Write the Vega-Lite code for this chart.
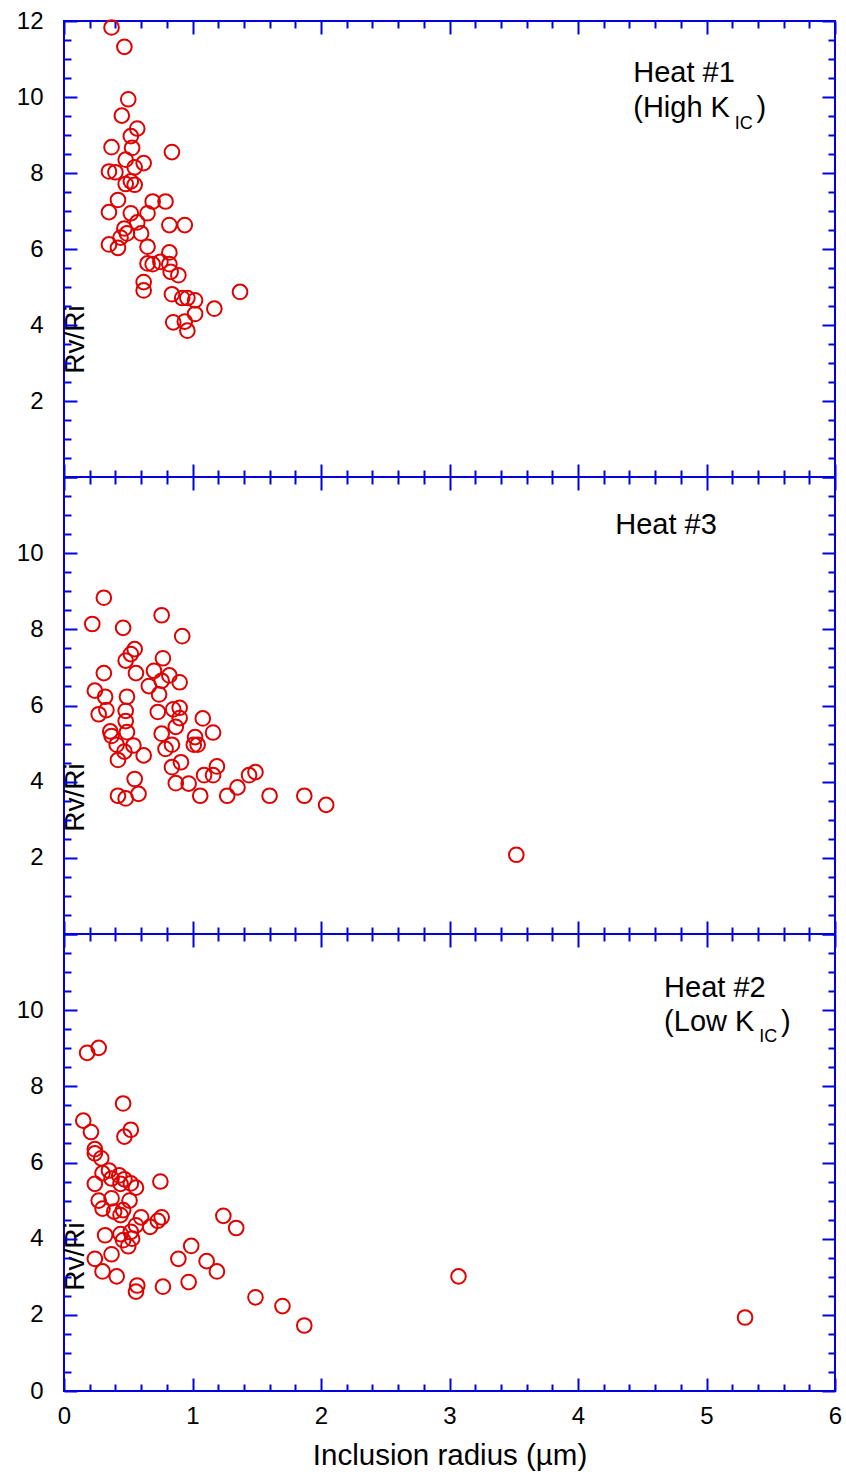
{
  "$schema": "https://vega.github.io/schema/vega-lite/v6.json",
  "padding": {"left": 15, "top": 8, "right": 5, "bottom": 5},
  "background": "white",
  "config": {
    "view": {"stroke": "#0000E0", "strokeWidth": 2},
    "axis": {"domain": false, "grid": false, "tickColor": "#0000E0", "tickWidth": 2, "labelFont": "Liberation Sans", "labelFontSize": 24, "labelColor": "black", "labelFlush": false, "labelOverlap": false, "titleFont": "Liberation Sans", "titleFontSize": 28, "titleFontWeight": "normal", "titleColor": "black"}
  },
  "datasets": {
    "h1": [
      {"r":0.37,"v":11.83},{"r":0.47,"v":11.32},{"r":0.50,"v":9.94},{"r":0.45,"v":9.51},{"r":0.57,"v":9.17},{"r":0.52,"v":8.97},{"r":0.37,"v":8.68},{"r":0.53,"v":8.66},{"r":0.84,"v":8.55},{"r":0.48,"v":8.35},{"r":0.62,"v":8.26},{"r":0.55,"v":8.15},{"r":0.35,"v":8.04},{"r":0.40,"v":8.02},{"r":0.48,"v":7.71},{"r":0.55,"v":7.69},{"r":0.52,"v":7.78},{"r":0.42,"v":7.29},{"r":0.69,"v":7.25},{"r":0.79,"v":7.25},{"r":0.35,"v":6.97},{"r":0.52,"v":6.94},{"r":0.65,"v":6.94},{"r":0.57,"v":6.70},{"r":0.82,"v":6.63},{"r":0.94,"v":6.63},{"r":0.47,"v":6.54},{"r":0.60,"v":6.41},{"r":0.49,"v":6.41},{"r":0.44,"v":6.30},{"r":0.35,"v":6.12},{"r":0.42,"v":6.03},{"r":0.65,"v":6.06},{"r":0.65,"v":5.62},{"r":0.69,"v":5.60},{"r":0.75,"v":5.66},{"r":0.82,"v":5.91},{"r":0.82,"v":5.60},{"r":0.83,"v":5.40},{"r":0.89,"v":5.31},{"r":0.62,"v":5.13},{"r":0.62,"v":4.91},{"r":0.84,"v":4.81},{"r":0.92,"v":4.71},{"r":0.96,"v":4.71},{"r":1.02,"v":4.65},{"r":1.37,"v":4.87},{"r":1.17,"v":4.43},{"r":1.02,"v":4.29},{"r":0.85,"v":4.07},{"r":0.94,"v":4.09},{"r":0.96,"v":3.85}
    ],
    "h3": [
      {"r":0.31,"v":8.83},{"r":0.22,"v":8.14},{"r":0.46,"v":8.04},{"r":0.76,"v":8.37},{"r":0.92,"v":7.82},{"r":0.55,"v":7.48},{"r":0.52,"v":7.35},{"r":0.48,"v":7.18},{"r":0.77,"v":7.24},{"r":0.31,"v":6.85},{"r":0.56,"v":6.85},{"r":0.70,"v":6.91},{"r":0.82,"v":6.79},{"r":0.76,"v":6.65},{"r":0.90,"v":6.61},{"r":0.66,"v":6.51},{"r":0.24,"v":6.39},{"r":0.74,"v":6.29},{"r":0.32,"v":6.23},{"r":0.49,"v":6.23},{"r":0.27,"v":5.77},{"r":0.33,"v":5.88},{"r":0.48,"v":5.86},{"r":0.73,"v":5.83},{"r":0.85,"v":5.90},{"r":0.90,"v":5.94},{"r":0.90,"v":5.67},{"r":0.48,"v":5.59},{"r":1.08,"v":5.66},{"r":0.36,"v":5.32},{"r":0.37,"v":5.20},{"r":0.49,"v":5.30},{"r":0.87,"v":5.44},{"r":0.76,"v":5.26},{"r":1.16,"v":5.29},{"r":1.02,"v":5.17},{"r":1.01,"v":4.97},{"r":1.04,"v":4.97},{"r":0.84,"v":4.97},{"r":0.79,"v":4.86},{"r":0.41,"v":4.97},{"r":0.54,"v":4.95},{"r":0.47,"v":4.79},{"r":0.62,"v":4.69},{"r":0.42,"v":4.57},{"r":0.91,"v":4.51},{"r":0.84,"v":4.38},{"r":1.19,"v":4.40},{"r":1.16,"v":4.17},{"r":1.09,"v":4.17},{"r":0.55,"v":4.07},{"r":1.44,"v":4.17},{"r":1.49,"v":4.25},{"r":0.87,"v":3.96},{"r":0.97,"v":3.95},{"r":1.35,"v":3.85},{"r":0.42,"v":3.63},{"r":0.48,"v":3.56},{"r":0.58,"v":3.68},{"r":1.06,"v":3.63},{"r":1.27,"v":3.63},{"r":1.60,"v":3.63},{"r":1.87,"v":3.63},{"r":2.04,"v":3.39},{"r":3.52,"v":2.08}
    ],
    "h2": [
      {"r":0.18,"v":8.88},{"r":0.27,"v":9.01},{"r":0.46,"v":7.55},{"r":0.15,"v":7.10},{"r":0.21,"v":6.80},{"r":0.52,"v":6.86},{"r":0.47,"v":6.68},{"r":0.24,"v":6.35},{"r":0.24,"v":6.24},{"r":0.29,"v":6.11},{"r":0.35,"v":5.79},{"r":0.30,"v":5.72},{"r":0.37,"v":5.58},{"r":0.43,"v":5.66},{"r":0.47,"v":5.56},{"r":0.52,"v":5.45},{"r":0.56,"v":5.34},{"r":0.44,"v":5.44},{"r":0.75,"v":5.50},{"r":0.24,"v":5.44},{"r":0.27,"v":5.00},{"r":0.30,"v":4.79},{"r":0.37,"v":5.06},{"r":0.39,"v":4.71},{"r":0.51,"v":5.00},{"r":0.46,"v":4.75},{"r":0.44,"v":4.62},{"r":0.60,"v":4.56},{"r":0.56,"v":4.35},{"r":0.67,"v":4.31},{"r":0.76,"v":4.56},{"r":0.73,"v":4.47},{"r":1.24,"v":4.60},{"r":1.34,"v":4.28},{"r":0.32,"v":4.09},{"r":0.44,"v":4.12},{"r":0.52,"v":4.18},{"r":0.46,"v":3.96},{"r":0.50,"v":3.80},{"r":0.53,"v":4.00},{"r":0.37,"v":3.59},{"r":0.24,"v":3.47},{"r":0.99,"v":3.81},{"r":0.89,"v":3.47},{"r":1.11,"v":3.41},{"r":1.19,"v":3.14},{"r":0.30,"v":3.14},{"r":0.41,"v":3.01},{"r":0.57,"v":2.77},{"r":0.56,"v":2.61},{"r":0.77,"v":2.74},{"r":0.97,"v":2.86},{"r":1.49,"v":2.46},{"r":1.70,"v":2.23},{"r":1.87,"v":1.72},{"r":3.07,"v":3.01},{"r":5.30,"v":1.93}
    ],
    "a1": [{"r":4.43,"v":10.63,"t":"Heat #1"},{"r":4.43,"v":9.71,"t":"(High K"},{"r":5.39,"v":9.71,"t":")"}],
    "s1": [{"r":5.22,"v":9.29,"t":"IC"}],
    "a3": [{"r":4.29,"v":10.73,"t":"Heat #3"}],
    "a2": [{"r":4.67,"v":10.58,"t":"Heat #2"},{"r":4.67,"v":9.68,"t":"(Low K"},{"r":5.58,"v":9.68,"t":")"}],
    "s2": [{"r":5.41,"v":9.29,"t":"IC"}]
  },
  "spacing": 0,
  "bounds": "flush",
  "vconcat": [
    {
      "width": 771, "height": 456,
      "resolve": {"axis": {"x": "independent", "y": "independent"}},
      "layer": [
        {"data": {"name": "h1"}, "mark": {"type": "point", "shape": "circle", "filled": false, "color": "#E00000", "strokeWidth": 2, "size": 215, "opacity": 1},
         "encoding": {
           "x": {"field": "r", "type": "quantitative", "scale": {"domain": [0, 6], "nice": false, "zero": false}, "axis": null},
           "y": {"field": "v", "type": "quantitative", "scale": {"domain": [0, 12], "nice": false}, "axis": {"orient": "left", "values": [0,2,4,6,8,10,12], "ticks": false, "labelPadding": 21, "labelExpr": "datum.value == 0 ? '' : datum.label", "title": "Rv/Ri", "titleX": 19, "titleY": 318, "titleBaseline": "alphabetic"}}
         }},
        {"data": {"name": "h1"}, "mark": {"type": "point", "opacity": 0},
         "encoding": {
           "x": {"field": "r", "type": "quantitative", "scale": {"domain": [0, 6], "nice": false, "zero": false}, "axis": {"orient": "bottom", "values": [0,1,2,3,4,5,6], "tickSize": -13, "labels": false, "title": null}},
           "y": {"field": "v", "type": "quantitative", "scale": {"domain": [0, 12], "nice": false}, "axis": {"orient": "left", "values": [0,2,4,6,8,10,12], "tickSize": -13, "labels": false, "title": null}}
         }},
        {"data": {"name": "h1"}, "mark": {"type": "point", "opacity": 0},
         "encoding": {
           "x": {"field": "r", "type": "quantitative", "scale": {"domain": [0, 6], "nice": false, "zero": false}, "axis": {"orient": "bottom", "values": [0.2,0.4,0.6,0.8,1.2,1.4,1.6,1.8,2.2,2.4,2.6,2.8,3.2,3.4,3.6,3.8,4.2,4.4,4.6,4.8,5.2,5.4,5.6,5.8], "tickSize": -7, "labels": false, "title": null}},
           "y": {"field": "v", "type": "quantitative", "scale": {"domain": [0, 12], "nice": false}, "axis": {"orient": "left", "values": [0.5,1,1.5,2.5,3,3.5,4.5,5,5.5,6.5,7,7.5,8.5,9,9.5,10.5,11,11.5], "tickSize": -7, "labels": false, "title": null}}
         }},
        {"data": {"name": "h1"}, "mark": {"type": "point", "opacity": 0},
         "encoding": {
           "x": {"field": "r", "type": "quantitative", "scale": {"domain": [0, 6], "nice": false, "zero": false}, "axis": {"orient": "top", "values": [0,1,2,3,4,5,6], "tickSize": -13, "labels": false, "title": null}},
           "y": {"field": "v", "type": "quantitative", "scale": {"domain": [0, 12], "nice": false}, "axis": {"orient": "right", "values": [0,2,4,6,8,10,12], "tickSize": -13, "labels": false, "title": null}}
         }},
        {"data": {"name": "h1"}, "mark": {"type": "point", "opacity": 0},
         "encoding": {
           "x": {"field": "r", "type": "quantitative", "scale": {"domain": [0, 6], "nice": false, "zero": false}, "axis": {"orient": "top", "values": [0.2,0.4,0.6,0.8,1.2,1.4,1.6,1.8,2.2,2.4,2.6,2.8,3.2,3.4,3.6,3.8,4.2,4.4,4.6,4.8,5.2,5.4,5.6,5.8], "tickSize": -7, "labels": false, "title": null}},
           "y": {"field": "v", "type": "quantitative", "scale": {"domain": [0, 12], "nice": false}, "axis": {"orient": "right", "values": [0.5,1,1.5,2.5,3,3.5,4.5,5,5.5,6.5,7,7.5,8.5,9,9.5,10.5,11,11.5], "tickSize": -7, "labels": false, "title": null}}
         }},
        {"data": {"name": "a1"}, "mark": {"type": "text", "align": "left", "baseline": "middle", "font": "Liberation Sans", "fontSize": 29, "color": "black"},
         "encoding": {
           "x": {"field": "r", "type": "quantitative", "scale": {"domain": [0, 6], "nice": false, "zero": false}, "axis": null},
           "y": {"field": "v", "type": "quantitative", "scale": {"domain": [0, 12], "nice": false}, "axis": null},
           "text": {"field": "t"}
         }},
        {"data": {"name": "s1"}, "mark": {"type": "text", "align": "left", "baseline": "middle", "font": "Liberation Sans", "fontSize": 18, "color": "black"},
         "encoding": {
           "x": {"field": "r", "type": "quantitative", "scale": {"domain": [0, 6], "nice": false, "zero": false}, "axis": null},
           "y": {"field": "v", "type": "quantitative", "scale": {"domain": [0, 12], "nice": false}, "axis": null},
           "text": {"field": "t"}
         }}
      ]
    },
    {
      "width": 771, "height": 457,
      "resolve": {"axis": {"x": "independent", "y": "independent"}},
      "layer": [
        {"data": {"name": "h3"}, "mark": {"type": "point", "shape": "circle", "filled": false, "color": "#E00000", "strokeWidth": 2, "size": 215, "opacity": 1},
         "encoding": {
           "x": {"field": "r", "type": "quantitative", "scale": {"domain": [0, 6], "nice": false, "zero": false}, "axis": null},
           "y": {"field": "v", "type": "quantitative", "scale": {"domain": [0, 12], "nice": false}, "axis": {"orient": "left", "values": [0,2,4,6,8,10,12], "ticks": false, "labelPadding": 21, "labelExpr": "datum.value == 0 || datum.value == 12 ? '' : datum.label", "title": "Rv/Ri", "titleX": 19, "titleY": 320, "titleBaseline": "alphabetic"}}
         }},
        {"data": {"name": "h3"}, "mark": {"type": "point", "opacity": 0},
         "encoding": {
           "x": {"field": "r", "type": "quantitative", "scale": {"domain": [0, 6], "nice": false, "zero": false}, "axis": {"orient": "bottom", "values": [0,1,2,3,4,5,6], "tickSize": -13, "labels": false, "title": null}},
           "y": {"field": "v", "type": "quantitative", "scale": {"domain": [0, 12], "nice": false}, "axis": {"orient": "left", "values": [0,2,4,6,8,10,12], "tickSize": -13, "labels": false, "title": null}}
         }},
        {"data": {"name": "h3"}, "mark": {"type": "point", "opacity": 0},
         "encoding": {
           "x": {"field": "r", "type": "quantitative", "scale": {"domain": [0, 6], "nice": false, "zero": false}, "axis": {"orient": "bottom", "values": [0.2,0.4,0.6,0.8,1.2,1.4,1.6,1.8,2.2,2.4,2.6,2.8,3.2,3.4,3.6,3.8,4.2,4.4,4.6,4.8,5.2,5.4,5.6,5.8], "tickSize": -7, "labels": false, "title": null}},
           "y": {"field": "v", "type": "quantitative", "scale": {"domain": [0, 12], "nice": false}, "axis": {"orient": "left", "values": [0.5,1,1.5,2.5,3,3.5,4.5,5,5.5,6.5,7,7.5,8.5,9,9.5,10.5,11,11.5], "tickSize": -7, "labels": false, "title": null}}
         }},
        {"data": {"name": "h3"}, "mark": {"type": "point", "opacity": 0},
         "encoding": {
           "x": {"field": "r", "type": "quantitative", "scale": {"domain": [0, 6], "nice": false, "zero": false}, "axis": {"orient": "top", "values": [0,1,2,3,4,5,6], "tickSize": -13, "labels": false, "title": null}},
           "y": {"field": "v", "type": "quantitative", "scale": {"domain": [0, 12], "nice": false}, "axis": {"orient": "right", "values": [0,2,4,6,8,10,12], "tickSize": -13, "labels": false, "title": null}}
         }},
        {"data": {"name": "h3"}, "mark": {"type": "point", "opacity": 0},
         "encoding": {
           "x": {"field": "r", "type": "quantitative", "scale": {"domain": [0, 6], "nice": false, "zero": false}, "axis": {"orient": "top", "values": [0.2,0.4,0.6,0.8,1.2,1.4,1.6,1.8,2.2,2.4,2.6,2.8,3.2,3.4,3.6,3.8,4.2,4.4,4.6,4.8,5.2,5.4,5.6,5.8], "tickSize": -7, "labels": false, "title": null}},
           "y": {"field": "v", "type": "quantitative", "scale": {"domain": [0, 12], "nice": false}, "axis": {"orient": "right", "values": [0.5,1,1.5,2.5,3,3.5,4.5,5,5.5,6.5,7,7.5,8.5,9,9.5,10.5,11,11.5], "tickSize": -7, "labels": false, "title": null}}
         }},
        {"data": {"name": "a3"}, "mark": {"type": "text", "align": "left", "baseline": "middle", "font": "Liberation Sans", "fontSize": 29, "color": "black"},
         "encoding": {
           "x": {"field": "r", "type": "quantitative", "scale": {"domain": [0, 6], "nice": false, "zero": false}, "axis": null},
           "y": {"field": "v", "type": "quantitative", "scale": {"domain": [0, 12], "nice": false}, "axis": null},
           "text": {"field": "t"}
         }}
      ]
    },
    {
      "width": 771, "height": 457,
      "resolve": {"axis": {"x": "independent", "y": "independent"}},
      "layer": [
        {"data": {"name": "h2"}, "mark": {"type": "point", "shape": "circle", "filled": false, "color": "#E00000", "strokeWidth": 2, "size": 215, "opacity": 1},
         "encoding": {
           "x": {"field": "r", "type": "quantitative", "scale": {"domain": [0, 6], "nice": false, "zero": false}, "axis": {"orient": "bottom", "values": [0,1,2,3,4,5,6], "ticks": false, "labelPadding": 13, "title": "Inclusion radius (µm)", "titlePadding": 13, "titleFontSize": 29.5}},
           "y": {"field": "v", "type": "quantitative", "scale": {"domain": [0, 12], "nice": false}, "axis": {"orient": "left", "values": [0,2,4,6,8,10,12], "ticks": false, "labelPadding": 21, "labelExpr": "datum.value == 12 ? '' : datum.label", "title": "Rv/Ri", "titleX": 19, "titleY": 322, "titleBaseline": "alphabetic"}}
         }},
        {"data": {"name": "h2"}, "mark": {"type": "point", "opacity": 0},
         "encoding": {
           "x": {"field": "r", "type": "quantitative", "scale": {"domain": [0, 6], "nice": false, "zero": false}, "axis": {"orient": "bottom", "values": [0,1,2,3,4,5,6], "tickSize": -13, "labels": false, "title": null}},
           "y": {"field": "v", "type": "quantitative", "scale": {"domain": [0, 12], "nice": false}, "axis": {"orient": "left", "values": [0,2,4,6,8,10,12], "tickSize": -13, "labels": false, "title": null}}
         }},
        {"data": {"name": "h2"}, "mark": {"type": "point", "opacity": 0},
         "encoding": {
           "x": {"field": "r", "type": "quantitative", "scale": {"domain": [0, 6], "nice": false, "zero": false}, "axis": {"orient": "bottom", "values": [0.2,0.4,0.6,0.8,1.2,1.4,1.6,1.8,2.2,2.4,2.6,2.8,3.2,3.4,3.6,3.8,4.2,4.4,4.6,4.8,5.2,5.4,5.6,5.8], "tickSize": -7, "labels": false, "title": null}},
           "y": {"field": "v", "type": "quantitative", "scale": {"domain": [0, 12], "nice": false}, "axis": {"orient": "left", "values": [0.5,1,1.5,2.5,3,3.5,4.5,5,5.5,6.5,7,7.5,8.5,9,9.5,10.5,11,11.5], "tickSize": -7, "labels": false, "title": null}}
         }},
        {"data": {"name": "h2"}, "mark": {"type": "point", "opacity": 0},
         "encoding": {
           "x": {"field": "r", "type": "quantitative", "scale": {"domain": [0, 6], "nice": false, "zero": false}, "axis": {"orient": "top", "values": [0,1,2,3,4,5,6], "tickSize": -13, "labels": false, "title": null}},
           "y": {"field": "v", "type": "quantitative", "scale": {"domain": [0, 12], "nice": false}, "axis": {"orient": "right", "values": [0,2,4,6,8,10,12], "tickSize": -13, "labels": false, "title": null}}
         }},
        {"data": {"name": "h2"}, "mark": {"type": "point", "opacity": 0},
         "encoding": {
           "x": {"field": "r", "type": "quantitative", "scale": {"domain": [0, 6], "nice": false, "zero": false}, "axis": {"orient": "top", "values": [0.2,0.4,0.6,0.8,1.2,1.4,1.6,1.8,2.2,2.4,2.6,2.8,3.2,3.4,3.6,3.8,4.2,4.4,4.6,4.8,5.2,5.4,5.6,5.8], "tickSize": -7, "labels": false, "title": null}},
           "y": {"field": "v", "type": "quantitative", "scale": {"domain": [0, 12], "nice": false}, "axis": {"orient": "right", "values": [0.5,1,1.5,2.5,3,3.5,4.5,5,5.5,6.5,7,7.5,8.5,9,9.5,10.5,11,11.5], "tickSize": -7, "labels": false, "title": null}}
         }},
        {"data": {"name": "a2"}, "mark": {"type": "text", "align": "left", "baseline": "middle", "font": "Liberation Sans", "fontSize": 29, "color": "black"},
         "encoding": {
           "x": {"field": "r", "type": "quantitative", "scale": {"domain": [0, 6], "nice": false, "zero": false}, "axis": null},
           "y": {"field": "v", "type": "quantitative", "scale": {"domain": [0, 12], "nice": false}, "axis": null},
           "text": {"field": "t"}
         }},
        {"data": {"name": "s2"}, "mark": {"type": "text", "align": "left", "baseline": "middle", "font": "Liberation Sans", "fontSize": 18, "color": "black"},
         "encoding": {
           "x": {"field": "r", "type": "quantitative", "scale": {"domain": [0, 6], "nice": false, "zero": false}, "axis": null},
           "y": {"field": "v", "type": "quantitative", "scale": {"domain": [0, 12], "nice": false}, "axis": null},
           "text": {"field": "t"}
         }}
      ]
    }
  ]
}
